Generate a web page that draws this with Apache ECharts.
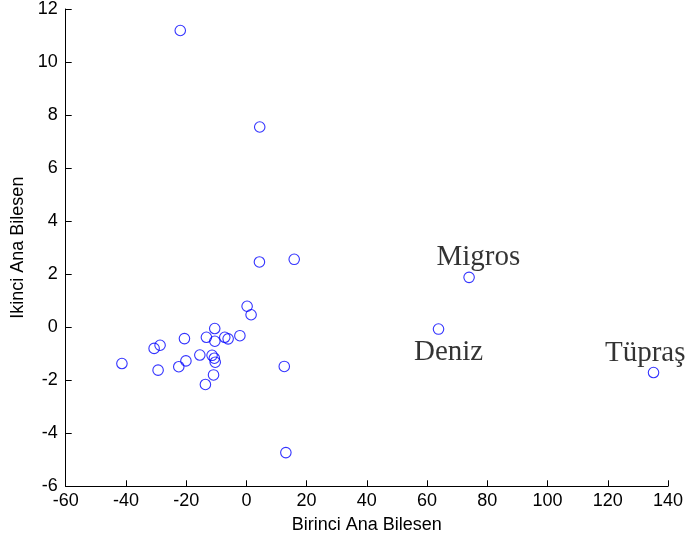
<!DOCTYPE html>
<html>
<head>
<meta charset="utf-8">
<script src="https://cdn.jsdelivr.net/npm/echarts@6/dist/echarts.min.js"></script>
<style>
  html, body { margin: 0; padding: 0; background: #fff; }
  #chart { width: 686px; height: 541px; }
</style>
</head>
<body>
<div id="chart"></div>
<script>
// First and second principal component scores per company
const pc1 = [
  -21.96, 4.43, 4.33, 15.88, 73.95, 63.8, 135.2, 0.24, 1.56, -10.51,
  -13.28, -10.48, -7.18, -6.06, -2.16, -20.57, -28.66, -30.64, -41.33, -29.32,
  -22.45, -20.08, -15.46, -11.4, -10.64, -10.35, -10.91, -13.61, 12.58, 13.11
];
const pc2 = [
  11.19, 7.55, 2.46, 2.56, 1.88, -0.07, -1.71, 0.79, 0.47, -0.05,
  -0.38, -0.53, -0.38, -0.44, -0.32, -0.43, -0.68, -0.80, -1.37, -1.62,
  -1.49, -1.27, -1.05, -1.06, -1.17, -1.32, -1.80, -2.16, -1.48, -4.73
];
// Names written next to the outlying companies (index into the arrays above)
const namedPoints = [
  { index: 4, name: 'Migros', offset: [-32, -19] },
  { index: 5, name: 'Deniz', offset: [-24, 24] },
  { index: 6, name: 'Tüpraş', offset: [-48, -19] }
];

const xTicks = { min: -60, max: 140, interval: 20 };
const yTicks = { min: -6, max: 12, interval: 2 };

const SYMBOL = 10.5;

const points = pc1.map((x, i) => {
  const item = { value: [x, pc2[i]] };
  const named = namedPoints.find(n => n.index === i);
  if (named) {
    item.label = {
      show: true,
      formatter: named.name,
      // position is measured from the symbol's top-left corner
      position: [named.offset[0] + SYMBOL / 2, named.offset[1] + SYMBOL / 2],
      align: 'left',
      verticalAlign: 'middle',
      overflow: 'none',
      fontFamily: 'Liberation Serif',
      fontSize: 29,
      color: '#000'
    };
  }
  return item;
});

const axisText = { color: '#000', fontFamily: 'Liberation Sans', fontSize: 18 };

const chart = echarts.init(document.getElementById('chart'), null, { renderer: 'canvas' });
chart.setOption({
  animation: false,
  backgroundColor: '#fff',
  grid: { left: 65.7, right: 14, top: 7.7, bottom: 54.7, containLabel: false },
  xAxis: {
    type: 'value',
    min: xTicks.min, max: xTicks.max, interval: xTicks.interval,
    name: 'Birinci Ana Bilesen',
    nameLocation: 'middle',
    nameGap: 30,
    nameTextStyle: axisText,
    axisLine: { show: true, onZero: false, lineStyle: { color: '#000', width: 1 } },
    axisTick: { show: true, inside: true, length: 6, lineStyle: { color: '#000' } },
    axisLabel: Object.assign({ margin: 6, showMinLabel: true, showMaxLabel: true }, axisText),
    splitLine: { show: false }
  },
  yAxis: {
    type: 'value',
    min: yTicks.min, max: yTicks.max, interval: yTicks.interval,
    name: 'Ikinci Ana Bilesen',
    nameLocation: 'middle',
    nameGap: 39,
    nameTextStyle: axisText,
    axisLine: { show: true, onZero: false, lineStyle: { color: '#000', width: 1 } },
    axisTick: { show: true, inside: true, length: 6, lineStyle: { color: '#000' } },
    axisLabel: Object.assign({ margin: 8, showMinLabel: true, showMaxLabel: true }, axisText),
    splitLine: { show: false }
  },
  series: [{
    type: 'scatter',
    symbol: 'circle',
    symbolSize: SYMBOL,
    clip: false,
    itemStyle: { color: 'rgba(0,0,0,0)', borderColor: '#0000ff', borderWidth: 1.1 },
    labelLayout: { hideOverlap: false },
    data: points
  }]
});
</script>
</body>
</html>
